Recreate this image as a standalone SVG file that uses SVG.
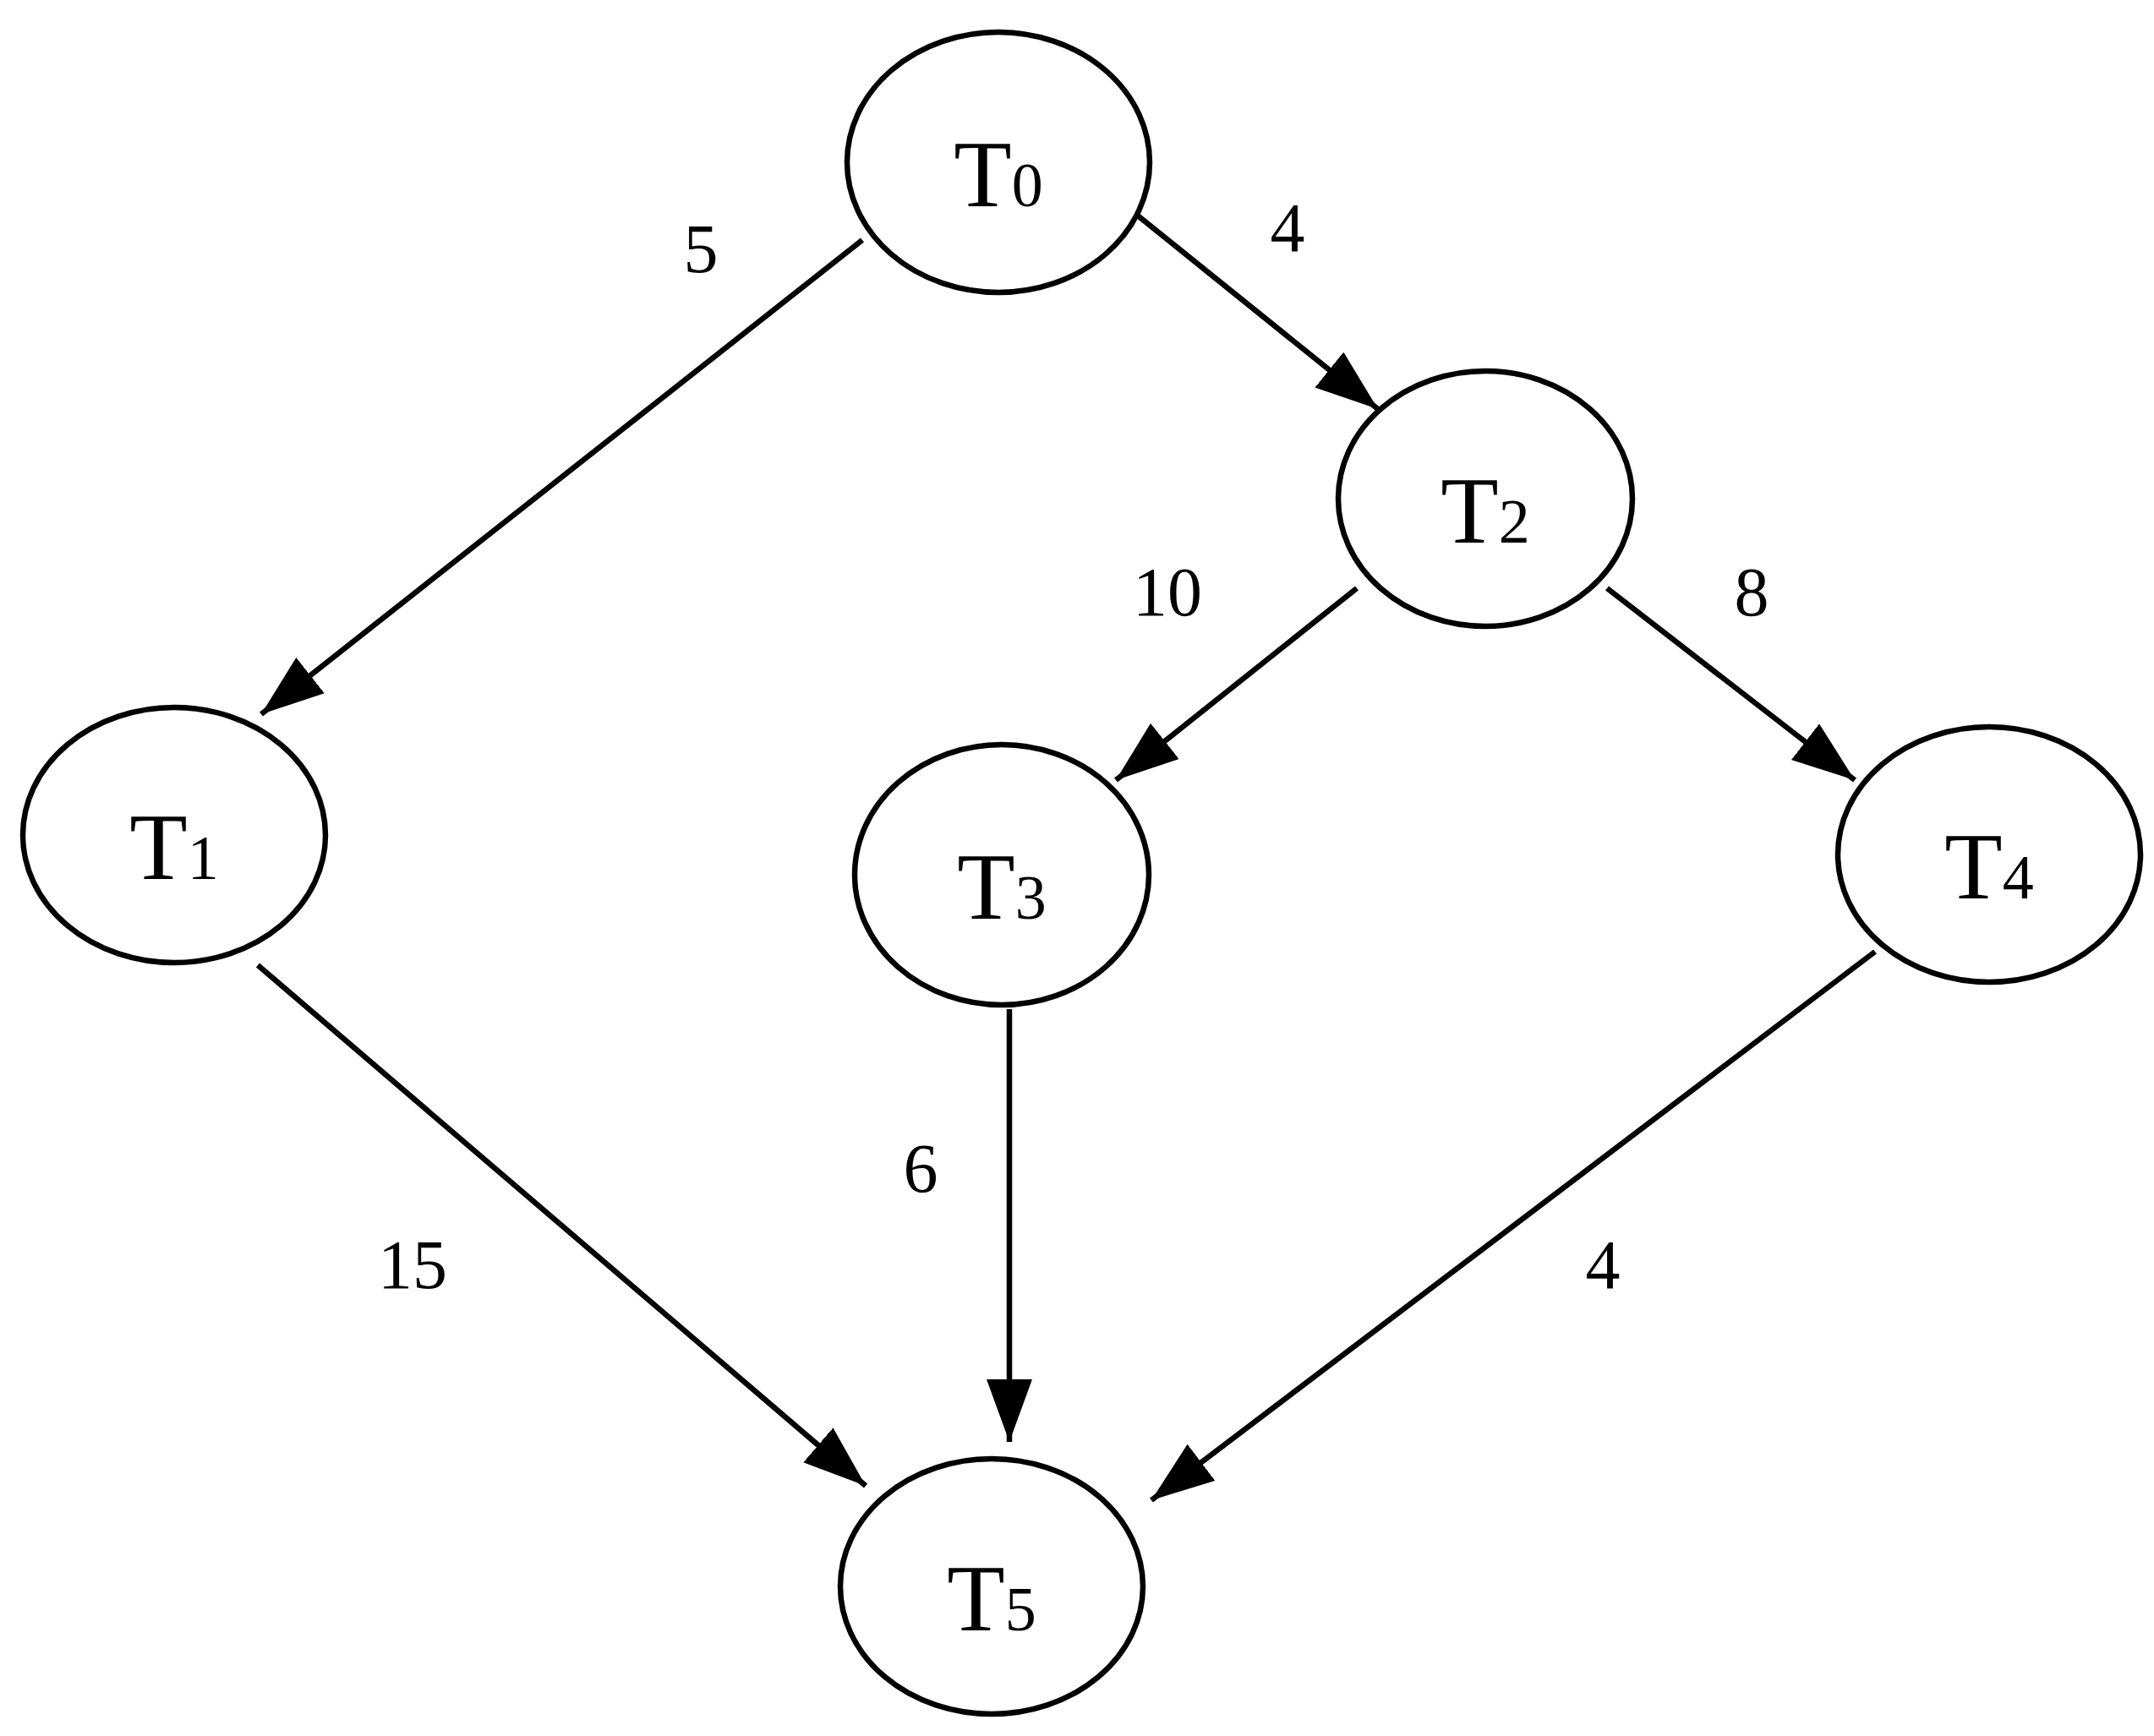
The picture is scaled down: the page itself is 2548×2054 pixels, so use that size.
<svg xmlns="http://www.w3.org/2000/svg" width="2548" height="2054" viewBox="0 0 2548 2054">
<style>
.n{fill:#fff;stroke:#000;stroke-width:6.5}
.t{font-family:"Liberation Serif","DejaVu Serif",serif;font-size:112px;fill:#000;text-anchor:middle}
.s{font-size:74px}
.l{font-family:"Liberation Serif","DejaVu Serif",serif;font-size:82px;fill:#000;text-anchor:middle}
.e{stroke:#000;stroke-width:6.5;fill:none;marker-end:url(#a)}
</style>
<defs>
<marker id="a" markerUnits="userSpaceOnUse" markerWidth="80" markerHeight="60" refX="74" refY="27" orient="auto">
<path d="M0,0 L74,27 L0,54 Z" fill="#000"/>
</marker>
</defs>
<g id="connectors">
<line class="e" x1="1020" y1="284" x2="309" y2="845"/>
<line class="e" x1="1342" y1="252" x2="1630" y2="484"/>
<line class="e" x1="1605" y1="696" x2="1320" y2="923"/>
<line class="e" x1="1901" y1="696" x2="2194" y2="923"/>
<line class="e" x1="305" y1="1142" x2="1024" y2="1758"/>
<line class="e" x1="1194" y1="1194" x2="1194" y2="1706"/>
<line class="e" x1="2218" y1="1126" x2="1362" y2="1775"/>
</g>
<g id="labels">
<text class="l" x="829" y="322">5</text>
<text class="l" x="1523" y="297">4</text>
<text class="l" x="1381" y="728">10</text>
<text class="l" x="2072" y="728">8</text>
<text class="l" x="488" y="1524">15</text>
<text class="l" x="1089" y="1410">6</text>
<text class="l" x="1896" y="1524">4</text>
</g>
<g id="T0"><ellipse class="n" cx="1181" cy="192" rx="179" ry="154"/><text class="t" x="1181" y="244">T<tspan class="s">0</tspan></text></g>
<g id="T1"><ellipse class="n" cx="206" cy="988" rx="179" ry="151"/><text class="t" x="206" y="1040">T<tspan class="s">1</tspan></text></g>
<g id="T2"><ellipse class="n" cx="1757" cy="590" rx="174" ry="151"/><text class="t" x="1757" y="642">T<tspan class="s">2</tspan></text></g>
<g id="T3"><ellipse class="n" cx="1185" cy="1035" rx="174" ry="154"/><text class="t" x="1185" y="1087">T<tspan class="s">3</tspan></text></g>
<g id="T4"><ellipse class="n" cx="2353" cy="1011" rx="179" ry="151"/><text class="t" x="2353" y="1063">T<tspan class="s">4</tspan></text></g>
<g id="T5"><ellipse class="n" cx="1173" cy="1877" rx="179" ry="151"/><text class="t" x="1173" y="1929">T<tspan class="s">5</tspan></text></g>
</svg>
